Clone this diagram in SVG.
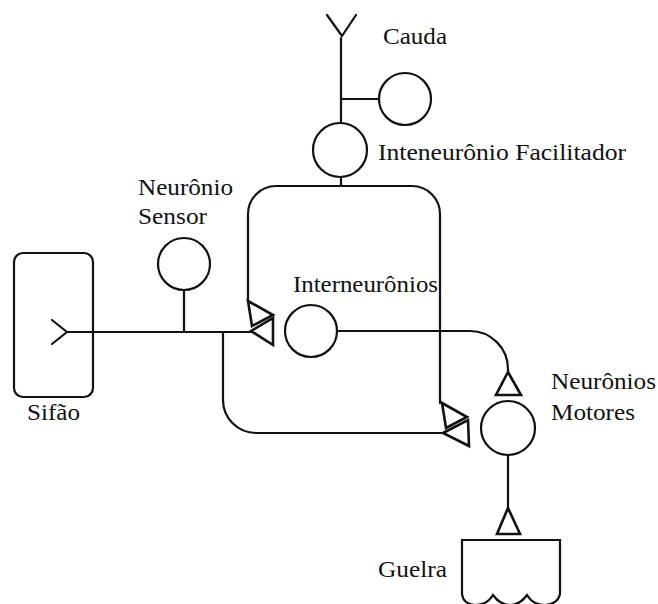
<svg xmlns="http://www.w3.org/2000/svg" width="658" height="604" viewBox="0 0 658 604">
<style>
.ln{fill:none;stroke:#111;stroke-width:2.2;stroke-linecap:round;stroke-linejoin:round}
.nd{fill:#fff;stroke:#111;stroke-width:2.2}
.bx{fill:none;stroke:#111;stroke-width:2.2}
.tri{fill:#fff;stroke:#111;stroke-width:2.6;stroke-linejoin:miter}
.lb{font-family:"Liberation Serif","DejaVu Serif","Noto Serif",FreeSerif,"Times New Roman",serif;font-size:24px;fill:#111}
</style>
<rect width="658" height="604" fill="#fff"/>
<g id="connectors">
<path class="ln" d="M341,38 V123"/>
<path class="ln" d="M341,99 H379"/>
<path class="ln" d="M341,177 V186"/>
<path class="ln" d="M248,301 V214 A28,28 0 0 1 276,186 H412 A28,28 0 0 1 440,214 V403"/>
<path class="ln" d="M67,332 H251"/>
<path class="ln" d="M184,290 V332"/>
<path class="ln" d="M223,332 V400 A33,33 0 0 0 256,433 H443"/>
<path class="ln" d="M337,331 H470 A38,38 0 0 1 508,369 V372"/>
<path class="ln" d="M508,455 V508"/>
</g>
<g id="sifao">
<rect class="bx" x="14" y="253" width="79" height="144" rx="9"/>
<path class="ln" d="M52,320 L67,332 L52,344"/>
<text class="lb" x="27" y="420" textLength="53" lengthAdjust="spacingAndGlyphs">Sifão</text>
</g>
<g id="cauda">
<path class="ln" d="M327,15 L342,36 L356,15" stroke-width="2.8"/>
<text class="lb" x="383" y="44" textLength="64" lengthAdjust="spacingAndGlyphs">Cauda</text>
</g>
<g id="cauda-neuron">
<circle class="nd" cx="405" cy="99" r="26"/>
</g>
<g id="facilitador">
<circle class="nd" cx="340" cy="150" r="27"/>
<text class="lb" x="378" y="160" textLength="248" lengthAdjust="spacingAndGlyphs">Inteneurônio Facilitador</text>
</g>
<g id="sensor">
<circle class="nd" cx="184" cy="264" r="26"/>
<text class="lb" x="138" y="195" textLength="95" lengthAdjust="spacingAndGlyphs">Neurônio</text>
<text class="lb" x="138" y="224" textLength="69" lengthAdjust="spacingAndGlyphs">Sensor</text>
</g>
<g id="interneuronios">
<polygon class="tri" points="248,301 273,315 252,326"/>
<polygon class="tri" points="251,331 273,318 273,345"/>
<circle class="nd" cx="311" cy="331" r="26"/>
<text class="lb" x="293" y="292" textLength="145" lengthAdjust="spacingAndGlyphs">Interneurônios</text>
</g>
<g id="motores">
<polygon class="tri" points="442,403 467,417 446,428"/>
<polygon class="tri" points="443,433 468,420 469,446"/>
<polygon class="tri" points="508,372 496,395 521,395"/>
<circle class="nd" cx="508" cy="428" r="27"/>
<text class="lb" x="551" y="389" textLength="105" lengthAdjust="spacingAndGlyphs">Neurônios</text>
<text class="lb" x="551" y="420" textLength="84" lengthAdjust="spacingAndGlyphs">Motores</text>
</g>
<g id="guelra">
<polygon class="tri" points="508,508 497,534 520,534"/>
<path class="nd" d="M462,540 H560 V594 Q558,604 545,605 Q533,605 527,595 Q520,605 510,605 Q500,605 493,595 Q487,605 475,605 Q463,604 462,594 Z"/>
<text class="lb" x="378" y="577" textLength="69" lengthAdjust="spacingAndGlyphs">Guelra</text>
</g>
</svg>
